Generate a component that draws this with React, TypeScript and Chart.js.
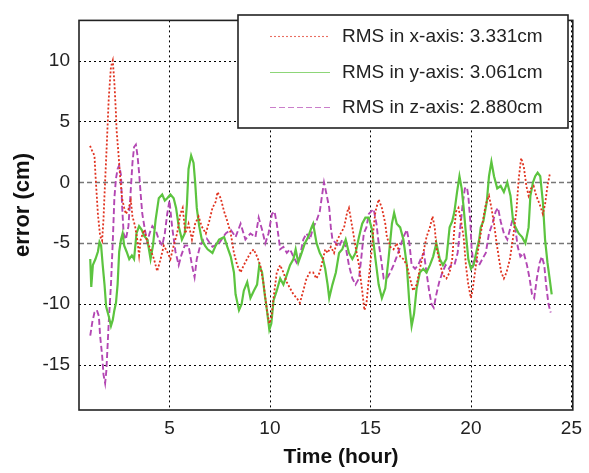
import React, { useEffect, useRef } from "react";
import { Chart, registerables } from "chart.js";

Chart.register(...registerables);

// ---- data (time in hours, error in cm) ----
const seriesLabels = [
  "RMS in x-axis: 3.331cm",
  "RMS in y-axis: 3.061cm",
  "RMS in z-axis: 2.880cm",
];

const xAxisError: [number, number][] = [
  [1.05,3.0],[1.15,2.6],[1.27,2.2],[1.32,0.6],[1.44,-2.6],[1.55,-4.4],[1.65,-4.8],[1.72,-3.0],[1.77,-1.0],[1.88,3.0],[1.98,6.9],[2.09,9.5],[2.18,10.0],[2.26,8.2],[2.34,5.6],[2.37,4.3],[2.47,2.2],[2.54,0.6],[2.64,-1.3],[2.75,-2.1],[2.83,-2.6],[2.96,-2.2],[3.08,-1.5],[3.16,-2.8],[3.29,-3.6],[3.4,-4.7],[3.49,-6.0],[3.57,-4.7],[3.74,-3.9],[3.9,-4.9],[4.06,-5.5],[4.23,-6.3],[4.39,-7.3],[4.56,-6.3],[4.72,-5.2],[4.89,-5.7],[5.05,-6.3],[5.21,-5.2],[5.38,-4.2],[5.54,-2.6],[5.66,-2.1],[5.79,-4.2],[5.95,-3.4],[6.12,-4.7],[6.28,-3.4],[6.45,-2.8],[6.6,-3.6],[6.81,-4.2],[6.98,-3.2],[7.14,-2.1],[7.3,-1.6],[7.39,-0.8],[7.55,-1.3],[7.72,-2.4],[7.88,-3.2],[8.05,-4.2],[8.21,-5.8],[8.37,-6.8],[8.54,-7.4],[8.7,-6.8],[8.86,-6.3],[9.03,-5.8],[9.19,-5.5],[9.36,-6.1],[9.52,-6.8],[9.69,-8.4],[9.85,-10.5],[9.97,-11.6],[10.07,-11.1],[10.18,-9.5],[10.34,-7.4],[10.51,-6.8],[10.67,-7.4],[10.84,-8.2],[11.0,-8.7],[11.17,-9.2],[11.33,-9.5],[11.49,-9.9],[11.66,-8.9],[11.82,-7.9],[11.99,-7.4],[12.15,-7.4],[12.31,-7.9],[12.48,-7.4],[12.64,-6.3],[12.75,-5.5],[12.87,-5.8],[13.03,-5.3],[13.19,-5.8],[13.36,-4.7],[13.52,-4.2],[13.69,-3.7],[13.85,-2.4],[13.93,-2.1],[14.1,-3.7],[14.26,-5.3],[14.43,-6.8],[14.59,-8.9],[14.7,-10.5],[14.8,-10.0],[14.92,-7.9],[15.08,-5.3],[15.16,-3.7],[15.25,-2.4],[15.41,-1.4],[15.57,-2.1],[15.74,-3.4],[15.82,-4.5],[15.99,-5.3],[16.15,-5.5],[16.31,-5.0],[16.48,-6.1],[16.64,-6.3],[16.81,-6.8],[16.97,-7.9],[17.13,-8.9],[17.3,-8.4],[17.46,-7.1],[17.63,-5.8],[17.79,-4.5],[17.96,-3.7],[18.09,-2.8],[18.2,-3.7],[18.28,-5.3],[18.45,-6.6],[18.61,-7.6],[18.78,-7.9],[18.94,-7.4],[19.07,-6.3],[19.18,-3.7],[19.26,-2.4],[19.38,-2.1],[19.51,-3.2],[19.64,-4.5],[19.75,-6.8],[19.87,-8.4],[20.0,-9.5],[20.08,-8.9],[20.25,-6.8],[20.41,-5.0],[20.57,-3.4],[20.74,-1.8],[20.9,-1.1],[21.02,-2.1],[21.15,-3.4],[21.28,-5.0],[21.4,-6.3],[21.51,-7.4],[21.64,-7.9],[21.77,-7.4],[21.94,-6.3],[22.1,-4.5],[22.26,-2.4],[22.38,0.3],[22.5,2.0],[22.63,1.3],[22.76,-0.3],[22.87,-1.1],[22.99,-0.5],[23.12,-0.3],[23.25,-1.1],[23.42,-1.8],[23.58,-2.6],[23.69,-1.8],[23.81,-0.3],[23.94,0.8],
];

const yAxisError: [number, number][] = [
  [1.06,-6.3],[1.11,-8.6],[1.19,-6.8],[1.32,-6.3],[1.44,-5.7],[1.52,-4.9],[1.6,-5.2],[1.68,-6.8],[1.77,-8.4],[1.85,-10.2],[1.98,-11.0],[2.09,-11.8],[2.18,-11.3],[2.26,-10.5],[2.34,-9.9],[2.42,-8.4],[2.5,-5.7],[2.59,-4.7],[2.67,-4.2],[2.75,-5.2],[2.87,-5.7],[3.0,-6.3],[3.13,-6.0],[3.24,-6.3],[3.36,-4.2],[3.49,-3.6],[3.62,-3.9],[3.74,-4.4],[3.9,-4.7],[4.06,-6.3],[4.18,-5.2],[4.31,-3.1],[4.47,-1.3],[4.64,-1.0],[4.77,-1.5],[4.89,-1.3],[5.05,-1.0],[5.21,-1.3],[5.33,-2.1],[5.46,-3.6],[5.62,-4.7],[5.76,-4.2],[5.87,-1.8],[5.95,1.1],[6.08,2.2],[6.2,1.6],[6.28,0.0],[6.36,-2.1],[6.48,-3.6],[6.61,-4.7],[6.77,-5.2],[6.9,-5.5],[7.14,-5.8],[7.3,-5.2],[7.47,-4.7],[7.72,-4.5],[7.88,-5.3],[8.05,-6.1],[8.21,-7.4],[8.29,-9.2],[8.46,-10.5],[8.59,-10.0],[8.7,-8.9],[8.87,-8.2],[9.03,-9.5],[9.2,-8.9],[9.36,-8.4],[9.47,-6.8],[9.61,-7.4],[9.74,-9.2],[9.85,-10.5],[9.97,-12.1],[10.07,-11.6],[10.18,-9.7],[10.34,-8.9],[10.51,-7.9],[10.67,-8.4],[10.84,-7.6],[11.0,-6.8],[11.17,-6.3],[11.28,-5.5],[11.41,-6.6],[11.58,-5.8],[11.74,-5.0],[11.9,-4.5],[12.07,-3.7],[12.15,-3.4],[12.32,-5.0],[12.48,-5.8],[12.64,-6.3],[12.75,-7.1],[12.87,-8.4],[12.95,-9.5],[13.11,-8.4],[13.28,-7.4],[13.44,-5.8],[13.6,-5.5],[13.77,-4.7],[13.93,-5.8],[14.1,-6.3],[14.26,-5.8],[14.43,-4.5],[14.59,-3.4],[14.75,-2.9],[14.92,-2.9],[15.08,-3.9],[15.25,-6.3],[15.41,-8.4],[15.57,-9.5],[15.74,-8.7],[15.9,-6.3],[16.07,-3.4],[16.18,-2.5],[16.31,-3.4],[16.48,-3.7],[16.64,-4.7],[16.81,-6.8],[16.94,-10.0],[17.05,-11.8],[17.17,-10.8],[17.3,-8.7],[17.46,-7.4],[17.63,-7.1],[17.79,-7.4],[17.96,-6.8],[18.12,-6.1],[18.28,-5.0],[18.45,-6.3],[18.61,-6.8],[18.78,-6.3],[18.94,-3.7],[19.07,-3.2],[19.18,-2.4],[19.31,-0.8],[19.43,0.5],[19.54,-0.5],[19.64,-2.1],[19.75,-4.2],[19.87,-6.3],[20.0,-7.1],[20.13,-6.8],[20.3,-5.5],[20.41,-4.7],[20.49,-3.7],[20.62,-3.2],[20.79,-1.6],[20.9,0.5],[21.02,1.7],[21.15,0.5],[21.31,-0.5],[21.48,-0.3],[21.64,-0.8],[21.81,0.0],[21.97,-1.1],[22.1,-3.2],[22.22,-3.7],[22.38,-4.2],[22.55,-4.5],[22.71,-5.0],[22.87,-3.7],[22.96,-1.1],[23.09,0.0],[23.2,0.5],[23.32,0.8],[23.45,0.5],[23.58,-1.6],[23.69,-4.7],[23.81,-6.6],[23.94,-8.2],[24.02,-9.2],
];

const zAxisError: [number, number][] = [
  [1.06,-12.6],[1.16,-11.5],[1.27,-10.7],[1.39,-10.5],[1.49,-11.0],[1.55,-12.6],[1.65,-14.2],[1.72,-15.8],[1.8,-16.5],[1.86,-15.5],[1.92,-13.5],[1.98,-11.5],[2.09,-8.4],[2.18,-4.9],[2.26,-1.3],[2.34,0.3],[2.42,1.1],[2.5,1.4],[2.59,0.6],[2.64,-1.8],[2.72,-4.2],[2.83,-4.7],[2.96,-3.6],[3.08,-0.5],[3.16,1.6],[3.24,2.9],[3.33,3.1],[3.41,2.2],[3.49,0.8],[3.57,-1.0],[3.65,-2.6],[3.78,-3.9],[3.9,-4.9],[4.01,-4.2],[4.15,-3.6],[4.31,-3.9],[4.47,-4.7],[4.64,-5.2],[4.77,-4.2],[4.89,-2.6],[5.0,-1.5],[5.13,-3.6],[5.3,-5.7],[5.46,-6.8],[5.59,-6.0],[5.76,-5.2],[5.95,-5.2],[6.12,-6.8],[6.25,-7.8],[6.36,-6.3],[6.53,-5.2],[6.69,-4.7],[6.85,-4.6],[7.14,-5.3],[7.47,-5.0],[7.8,-4.2],[8.05,-3.9],[8.29,-4.5],[8.54,-3.4],[8.78,-4.7],[9.03,-4.2],[9.28,-4.5],[9.44,-2.9],[9.61,-3.9],[9.77,-5.0],[9.93,-4.2],[10.1,-2.6],[10.23,-2.4],[10.34,-3.4],[10.43,-4.5],[10.51,-5.5],[10.67,-5.3],[10.84,-5.8],[11.0,-5.5],[11.17,-6.1],[11.33,-6.6],[11.49,-6.1],[11.66,-4.7],[11.82,-4.2],[11.99,-4.7],[12.15,-3.7],[12.31,-3.2],[12.48,-2.4],[12.59,-1.1],[12.69,0.0],[12.83,-1.1],[12.95,-2.1],[13.03,-3.7],[13.11,-4.7],[13.28,-5.0],[13.44,-5.3],[13.6,-4.7],[13.77,-5.3],[13.93,-6.8],[14.1,-7.9],[14.26,-8.4],[14.43,-7.9],[14.54,-6.3],[14.67,-4.2],[14.8,-3.7],[14.92,-2.6],[15.03,-2.4],[15.16,-2.2],[15.3,-3.4],[15.41,-5.0],[15.53,-6.3],[15.66,-7.9],[15.82,-7.9],[15.99,-7.4],[16.15,-6.8],[16.31,-6.1],[16.48,-5.3],[16.64,-4.5],[16.81,-3.9],[16.94,-5.0],[17.05,-6.8],[17.22,-7.1],[17.38,-6.8],[17.55,-6.1],[17.66,-5.8],[17.79,-7.4],[17.92,-8.9],[18.04,-10.0],[18.15,-10.3],[18.28,-9.2],[18.42,-8.2],[18.58,-7.4],[18.74,-6.8],[18.9,-7.1],[19.01,-6.8],[19.18,-6.8],[19.34,-5.8],[19.47,-3.7],[19.59,-1.8],[19.7,-0.5],[19.8,-0.4],[19.87,-1.1],[19.97,-3.2],[20.03,-5.3],[20.13,-6.8],[20.25,-6.3],[20.41,-6.8],[20.57,-6.3],[20.74,-5.8],[20.9,-4.2],[21.07,-3.4],[21.23,-2.4],[21.35,-2.1],[21.48,-3.2],[21.64,-4.2],[21.81,-4.7],[21.97,-3.7],[22.1,-2.9],[22.22,-3.9],[22.33,-5.3],[22.46,-6.1],[22.63,-5.8],[22.79,-6.8],[22.92,-7.9],[23.04,-9.2],[23.15,-9.5],[23.28,-7.9],[23.42,-6.6],[23.53,-6.1],[23.65,-6.8],[23.74,-8.4],[23.86,-10.0],[23.97,-10.7],
];

const xTicks = [5, 10, 15, 20, 25];
const yTicks = [-15, -10, -5, 0, 5, 10];
const xTitle = "Time (hour)";
const yTitle = "error (cm)";

const FONT = "'Liberation Sans', Arial, Helvetica, sans-serif";
const colors = ["#e0321f", "#5cc43f", "#b347b3"];
const dashes = [[2, 2], [], [6, 3]];
const widths = [1.8, 2.2, 1.9];

const decorPlugin = {
  id: "decor",
  beforeDatasetsDraw(chart: any) {
    const { ctx, chartArea: a, scales } = chart;
    const xs = scales.x, ys = scales.y;
    ctx.save();
    ctx.lineWidth = 1;
    ctx.strokeStyle = "#000";
    ctx.setLineDash([2, 3]);
    for (const v of xTicks) {
      const px = Math.round(xs.getPixelForValue(v)) + 0.5;
      ctx.beginPath();
      ctx.moveTo(px, a.top);
      ctx.lineTo(px, a.bottom);
      ctx.stroke();
    }
    for (const v of yTicks) {
      const py = Math.round(ys.getPixelForValue(v)) + 0.5;
      if (v === 0 || v === -5) {
        ctx.strokeStyle = "#777";
        ctx.lineWidth = 1.5;
        ctx.setLineDash([5, 3]);
      } else {
        ctx.strokeStyle = "#000";
        ctx.lineWidth = 1;
        ctx.setLineDash([2, 3]);
      }
      ctx.beginPath();
      ctx.moveTo(a.left, py);
      ctx.lineTo(a.right, py);
      ctx.stroke();
    }
    ctx.restore();
  },
  afterDraw(chart: any) {
    const { ctx, chartArea: a } = chart;
    ctx.save();
    // frame
    ctx.setLineDash([]);
    ctx.strokeStyle = "#222";
    ctx.lineWidth = 1.6;
    ctx.strokeRect(a.left, a.top, a.right - a.left, a.bottom - a.top);

    // legend box
    const lx = 238, ly = 15, lw = 330, lh = 113;
    ctx.fillStyle = "#fff";
    ctx.fillRect(lx, ly, lw, lh);
    ctx.strokeStyle = "#222";
    ctx.lineWidth = 1.6;
    ctx.strokeRect(lx, ly, lw, lh);
    const rows = [36, 72, 107];
    ctx.font = `19px ${FONT}`;
    ctx.textBaseline = "middle";
    ctx.textAlign = "left";
    chart.data.datasets.forEach((ds: any, i: number) => {
      ctx.strokeStyle = ds.borderColor;
      ctx.lineWidth = 1.1;
      ctx.globalAlpha = 0.7;
      ctx.setLineDash(ds.borderDash || []);
      ctx.beginPath();
      ctx.moveTo(270, rows[i] + 0.5);
      ctx.lineTo(330, rows[i] + 0.5);
      ctx.stroke();
      ctx.globalAlpha = 1;
      ctx.fillStyle = "#222";
      ctx.fillText(ds.label, 342, rows[i] + 1);
    });
    ctx.setLineDash([]);

    // axis titles
    ctx.fillStyle = "#111";
    ctx.font = `bold 21px ${FONT}`;
    ctx.textAlign = "center";
    ctx.textBaseline = "middle";
    ctx.fillText(xTitle, 341, 457);
    ctx.save();
    ctx.translate(23, 205);
    ctx.rotate(-Math.PI / 2);
    ctx.font = `bold 22px ${FONT}`;
    ctx.fillText(yTitle, 0, 0);
    ctx.restore();
    ctx.restore();
  },
};

export default function App() {
  const ref = useRef<HTMLCanvasElement | null>(null);
  useEffect(() => {
    if (!ref.current) return;
    const all = [xAxisError, yAxisError, zAxisError];
    const chart = new Chart(ref.current, {
      type: "line",
      data: {
        datasets: all.map((s, i) => ({
          label: seriesLabels[i],
          data: s.map(([x, y]) => ({ x, y })),
          borderColor: colors[i],
          borderWidth: widths[i],
          borderDash: dashes[i],
          pointRadius: 0,
          tension: 0,
          fill: false,
        })),
      },
      options: {
        responsive: false,
        animation: false,
        events: [],
        layout: { padding: { left: 0, top: 5, right: 12, bottom: 0 } },
        plugins: { legend: { display: false }, tooltip: { enabled: false }, title: { display: false } },
        scales: {
          x: {
            type: "linear",
            min: 0.5,
            max: 25.07,
            grid: { display: false, drawTicks: false },
            border: { display: false },
            ticks: { color: "#222", font: { family: FONT, size: 19 }, padding: 7, maxRotation: 0 },
            afterBuildTicks: (s: any) => { s.ticks = xTicks.map((v) => ({ value: v })); },
            afterFit: (s: any) => { s.height = 63; },
          },
          y: {
            type: "linear",
            min: -18.7,
            max: 13.3,
            grid: { display: false, drawTicks: false },
            border: { display: false },
            ticks: { color: "#222", font: { family: FONT, size: 19 }, padding: 9 },
            afterBuildTicks: (s: any) => { s.ticks = yTicks.map((v) => ({ value: v })); },
            afterFit: (s: any) => { s.width = 79; },
          },
        },
      },
      plugins: [decorPlugin],
    } as any);
    return () => chart.destroy();
  }, []);
  return (
    <div style={{ position: "fixed", left: 0, top: 0, width: 589, height: 473, background: "#fff" }}>
      <canvas ref={ref} width={589} height={473} />
    </div>
  );
}
